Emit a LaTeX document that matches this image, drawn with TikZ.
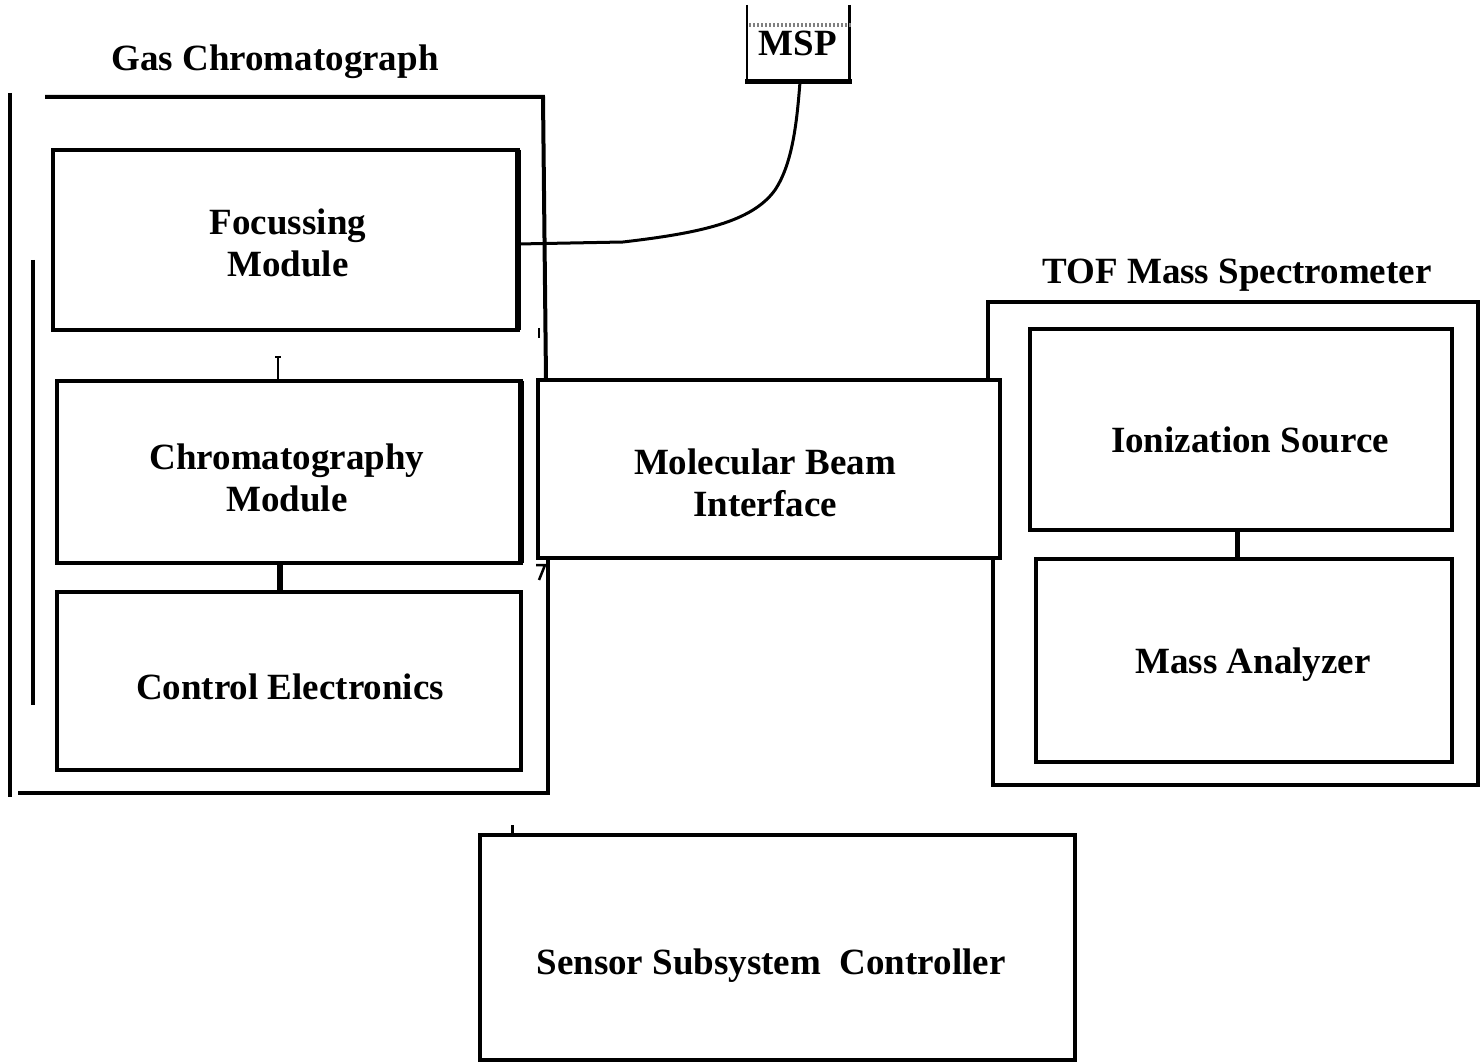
\documentclass[tikz,border=0pt]{standalone}
\usepackage{fontspec}
\setmainfont{Liberation Serif}
\begin{document}
\begin{tikzpicture}[x=1pt,y=-1pt,line width=4pt,
  box/.style={draw,line width=4pt,inner sep=0pt,outer sep=0pt},
  lbl/.style={font=\fontsize{37}{42}\selectfont\bfseries,align=center,inner sep=0pt},
  thin/.style={line width=2pt},
  link/.style={line width=6pt}]
\useasboundingbox (0,0) rectangle (1481,1064);

% --- Gas chromatograph enclosure ---
\node[lbl] (gctitle) at (275,62) {Gas Chromatograph};
\draw (10,93) -- (10,797);
\draw (18,793) -- (550,793);
\draw (548,560) -- (548,795);
\draw (45,97) -- (543,97) -- (546,380);
\draw (33,260) -- (33,705);

\node[box,minimum width=465pt,minimum height=180pt] (focus) at (285.5,240) {};
\draw[line width=6pt] (focus.north east) -- (focus.south east);
\node[lbl] (focust) at (288,243) {Focussing\\Module};
\node[box,minimum width=464pt,minimum height=182pt] (chrom) at (289,472) {};
\draw[line width=6pt] (chrom.north east) -- (chrom.south east);
\node[lbl] (chromt) at (287,478) {Chromatography\\Module};
\node[box,minimum width=464pt,minimum height=178pt] (ctrl) at (289,681) {};
\node[lbl] (ctrlt) at (290,687) {Control Electronics};

% serifed tick above the chromatography module
\draw[thin] ([xshift=-11pt,yshift=24pt]chrom.north) -- ([xshift=-11pt]chrom.north);
\draw[line width=1.5pt] ([xshift=-14pt,yshift=24pt]chrom.north) -- ([xshift=-8pt,yshift=24pt]chrom.north);
\draw[link] ([xshift=-9pt]chrom.south) -- ([xshift=-9pt]ctrl.north);

% --- Molecular beam interface ---
\node[box,minimum width=462pt,minimum height=178pt] (mbi) at (769,469) {};
\node[lbl] (mbit) at (765,483) {Molecular Beam\\Interface};
\draw[thin] (539,328) -- (539,338);
\draw[line width=2.5pt] (536,565) -- (545,565) -- (539,580);

% --- TOF mass spectrometer enclosure ---
\node[lbl] (toftitle) at (1237,275) {TOF Mass Spectrometer};
\draw (988,380) -- (988,302) -- (1478,302) -- (1478,785) -- (993,785) -- (993,558);
\node[box,minimum width=422pt,minimum height=201pt] (ion) at (1241,429.5) {};
\node[lbl] (iont) at (1250,440) {Ionization Source};
\node[box,minimum width=416pt,minimum height=203pt] (mass) at (1244,660.5) {};
\node[lbl] (masst) at (1253,665) {Mass Analyzer};
\draw[line width=5pt] ([xshift=-4pt]ion.south) -- ([xshift=-7pt]mass.north);

% --- Sensor subsystem controller ---
\node[box,minimum width=595pt,minimum height=225pt] (ssc) at (777.5,947.5) {};
\node[lbl] (ssct) at (771,966) {Sensor Subsystem\enspace Controller};
\draw[line width=3pt] ([xshift=-265.5pt,yshift=10pt]ssc.north) -- ([xshift=-265.5pt]ssc.north);

% --- MSP unit and its cable ---
\node[lbl,minimum width=98pt,minimum height=73pt] (msp) at (798,43.5) {\raisebox{-6pt}{MSP}};
\draw[line width=1.5pt] (msp.north west) -- (msp.south west);
\draw[line width=3pt] (msp.north east) -- (msp.south east);
\draw[line width=5pt] ([xshift=-2pt]msp.south west) -- ([xshift=3pt]msp.south east);
\draw[gray,line width=4pt,dash pattern=on 1.5pt off 2.5pt] (749,25) -- (853,25);
\draw[line width=3pt] ([yshift=-4pt]focus.east) -- (623,242)
  .. controls (700,233) and (752,222) .. (775,190)
  .. controls (793,163) and (797,120) .. ([xshift=2pt]msp.south);
\end{tikzpicture}
\end{document}
